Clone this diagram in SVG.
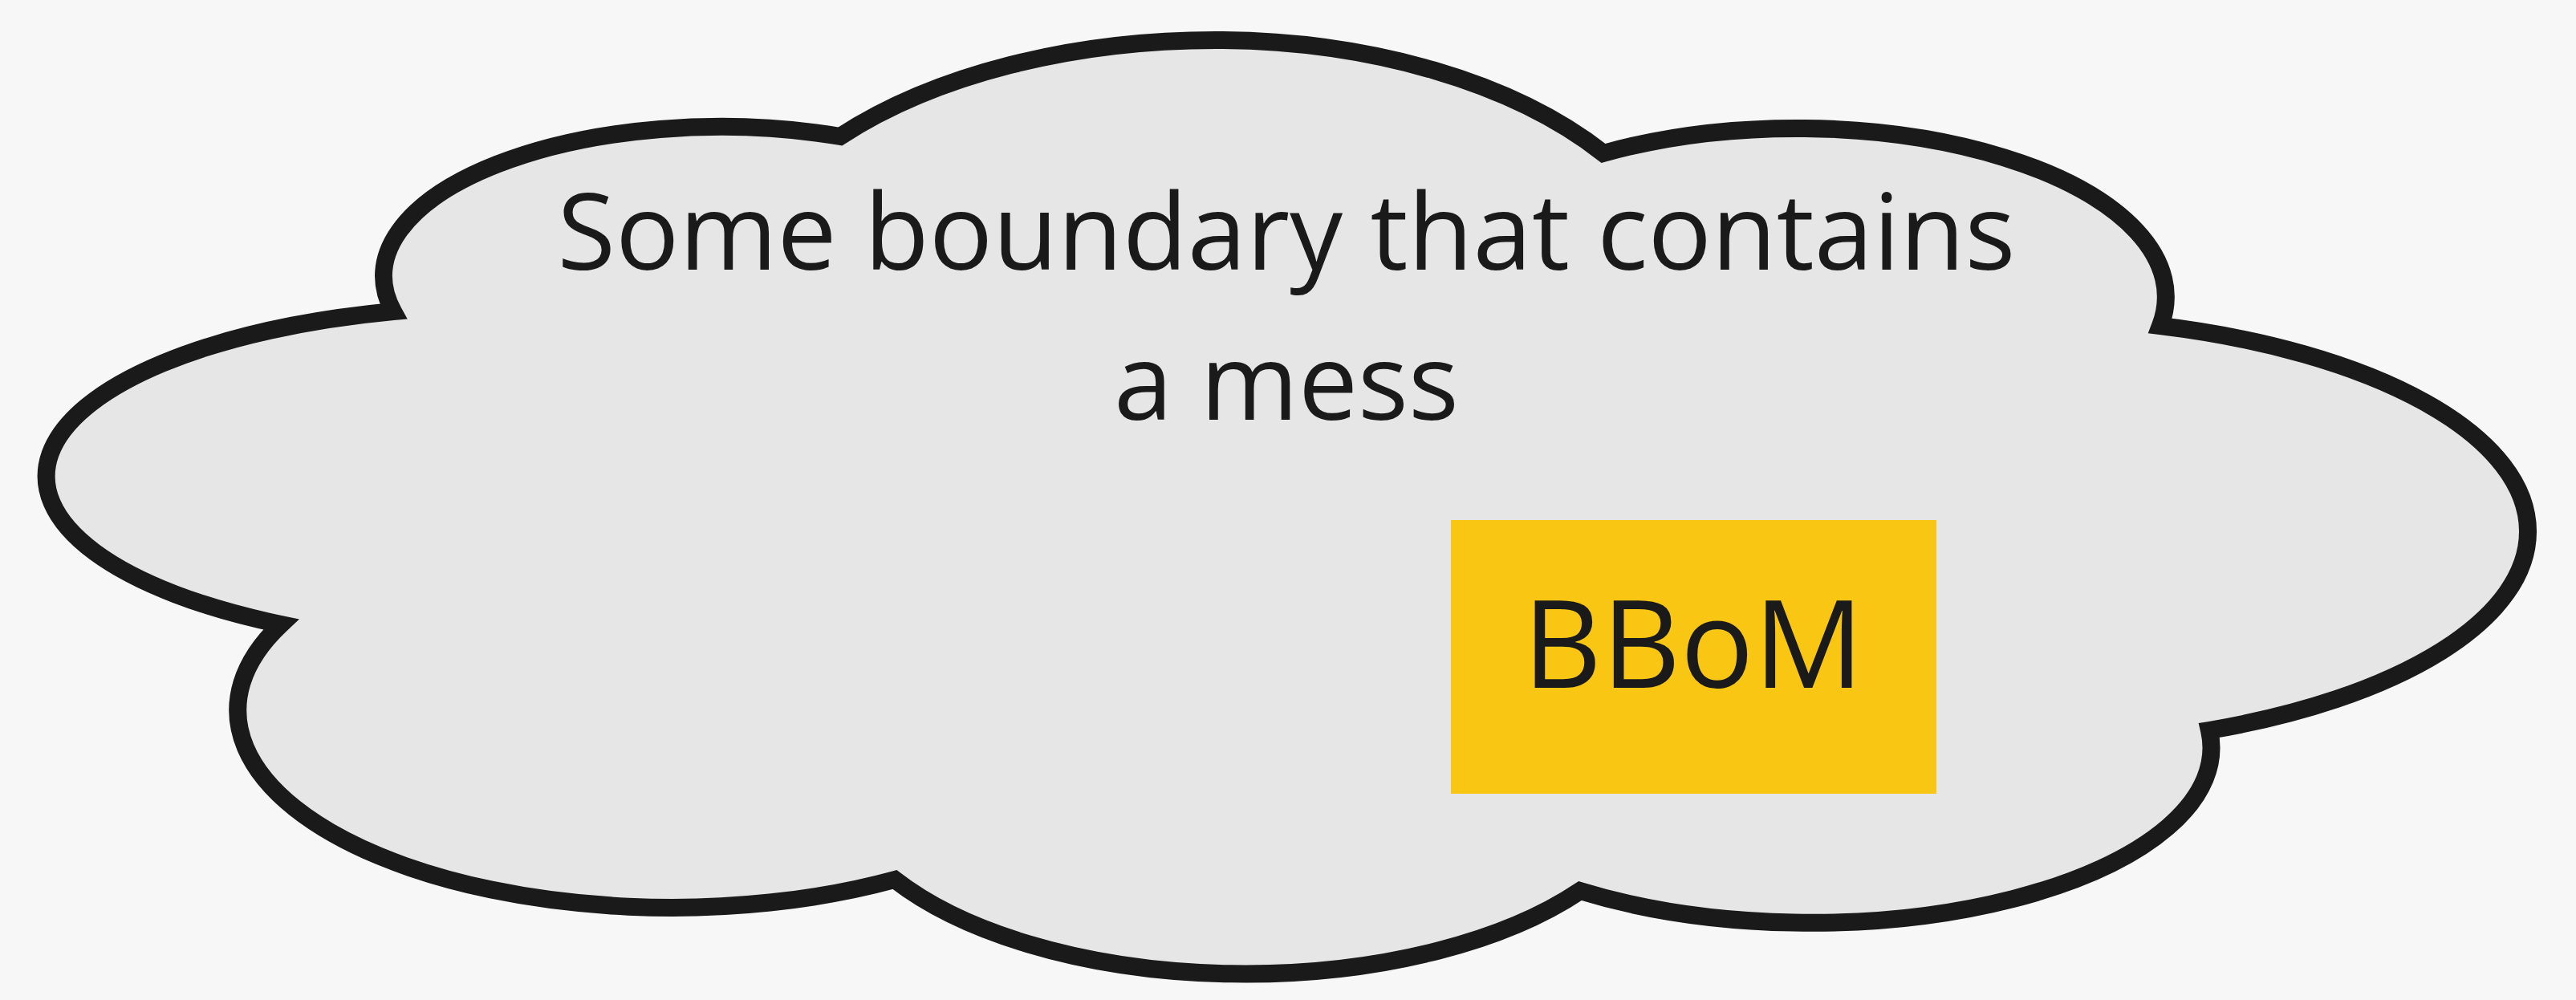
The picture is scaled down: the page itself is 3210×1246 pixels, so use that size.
<svg xmlns="http://www.w3.org/2000/svg" width="3210" height="1246" viewBox="0 0 3210 1246">
  <style>
    .bg { fill: #F7F7F7; }
    .cloud { fill: #E6E6E6; stroke: #1A1A1A; stroke-width: 22; stroke-linejoin: miter; stroke-miterlimit: 10; }
    .box { fill: #F9C713; }
    .label { font-family: "Open Sans", "Noto Sans", "Liberation Sans", sans-serif; fill: #1A1A1A; text-anchor: middle; }
  </style>
  <rect class="bg" x="0" y="0" width="3210" height="1246"/>
  <g id="boundary">
    <path class="cloud" d="M 490 388
      A 420 186 0 0 1 1047 170
      A 616 343 0 0 1 1517 50
      A 599 343 0 0 1 1998 191
      A 460 210 0 0 1 2692 406
      A 634 266.5 0 0 1 3150 662
      A 634 267 0 0 1 2753 910
      A 499 218 0 0 1 1969 1110
      A 515 250 0 0 1 1115 1096
      A 541 246 0 0 1 350 778
      A 575 212 0 0 1 490 388 Z"/>
    <text class="label" x="1603" y="336" font-size="132">Some boundary that contains</text>
    <text class="label" x="1603" y="523" font-size="132">a mess</text>
  </g>
  <g id="bbom">
    <rect class="box" x="1808" y="648" width="605" height="341"/>
    <text class="label" x="2110" y="857" font-size="152">BBoM</text>
  </g>
  <g id="connectors"/>
</svg>
